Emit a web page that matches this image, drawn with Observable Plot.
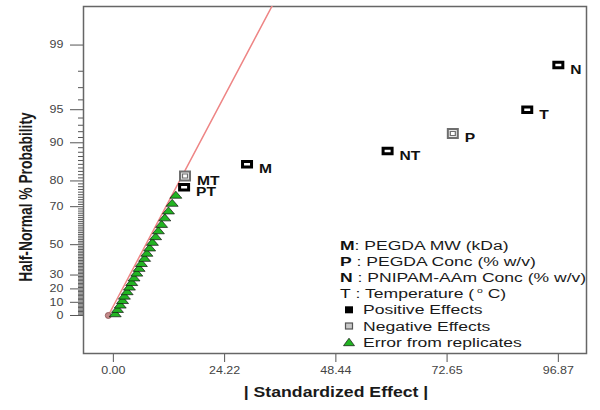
<!DOCTYPE html>
<html><head><meta charset="utf-8">
<script src="https://cdn.jsdelivr.net/npm/d3@7"></script>
<script src="https://cdn.jsdelivr.net/npm/@observablehq/plot@0.6"></script>
<style>
html,body{margin:0;padding:0;background:#fff;}
svg{display:block;}
</style></head><body><div id="chart"></div>
<script>
// ---- data ----
const effectNames  = ["N", "T", "P", "NT", "M", "MT", "PT"];
const effectValues = [96.87, 90.1, 73.9, 59.7, 29.1, 15.6, 15.4];
const effectProb   = [98.3, 95.0, 91.7, 88.3, 85.0, 81.6, 77.8];
const effectSign   = ["positive", "positive", "negative", "positive", "positive", "negative", "positive"];

const errorValues = [0.4, 0.9, 1.5, 2.0, 2.4, 3.0, 3.5, 4.0, 4.5, 5.1, 5.6, 6.1, 6.8, 7.3, 7.9, 8.5, 9.2, 9.8, 10.5, 11.2, 12.0, 12.8, 13.6];
const errorProb   = [1.7, 5.0, 8.3, 11.7, 15.0, 18.3, 21.7, 25.0, 28.3, 31.7, 35.0, 38.3, 41.7, 45.0, 48.3, 51.7, 55.0, 58.3, 61.7, 65.0, 68.3, 71.7, 75.0];

const lineValues = [-1.1, 38.7];
const lineProb   = [0, 99.9];

const originValue = [-1.1];
const originProb  = [0];

const xTicks      = [0, 24.22, 48.44, 72.65, 96.87];
const xTickLabels = ["0.00", "24.22", "48.44", "72.65", "96.87"];
const yTicks      = [0, 10, 20, 30, 50, 70, 80, 90, 95, 99];
const yTickLabels = ["0", "10", "20", "30", "50", "70", "80", "90", "95", "99"];
const yMinorTicks = d3.range(1, 99).filter(p => !yTicks.includes(p));

const legendKeys  = ["M", "P", "N", "T"];
const legendDescs = ["PEGDA MW (kDa)", "PEGDA Conc (% w/v)", "PNIPAM-AAm Conc (% w/v)", "Temperature ("];
const legendSymbolLabels = ["Positive Effects", "Negative Effects", "Error from replicates"];

const xTitle = "| Standardized Effect |";
const yTitle = "Half-Normal % Probability";

// ---- half-normal probability transform ----
function normInv(p) {
  const a=[-3.969683028665376e+01,2.209460984245205e+02,-2.759285104469687e+02,1.383577518672690e+02,-3.066479806614716e+01,2.506628277459239e+00];
  const b=[-5.447609879822406e+01,1.615858368580409e+02,-1.556989798598866e+02,6.680131188771972e+01,-1.328068155288572e+01];
  const c=[-7.784894002430293e-03,-3.223964580411365e-01,-2.400758277161838e+00,-2.549732539343734e+00,4.374664141464968e+00,2.938163982698783e+00];
  const d=[7.784695709041462e-03,3.224671290700398e-01,2.445134137142996e+00,3.754408661907416e+00];
  const pl = 0.02425, ph = 1 - pl;
  let q, r;
  if (p < pl) { q = Math.sqrt(-2*Math.log(p)); return (((((c[0]*q+c[1])*q+c[2])*q+c[3])*q+c[4])*q+c[5])/((((d[0]*q+d[1])*q+d[2])*q+d[3])*q+1); }
  if (p > ph) { q = Math.sqrt(-2*Math.log(1-p)); return -(((((c[0]*q+c[1])*q+c[2])*q+c[3])*q+c[4])*q+c[5])/((((d[0]*q+d[1])*q+d[2])*q+d[3])*q+1); }
  q = p - 0.5; r = q*q;
  return (((((a[0]*r+a[1])*r+a[2])*r+a[3])*r+a[4])*r+a[5])*q/(((((b[0]*r+b[1])*r+b[2])*r+b[3])*r+b[4])*r+1);
}
const hnz = pct => normInv(0.5 + pct / 200);

const effects = effectNames.map((name, i) => ({name, value: effectValues[i], prob: effectProb[i], sign: effectSign[i]}));
const positive = effects.filter(d => d.sign === "positive");
const negative = effects.filter(d => d.sign === "negative");
const errors = errorValues.map((v, i) => ({value: v, prob: errorProb[i]}));
const refLine = lineValues.map((v, i) => ({value: v, prob: lineProb[i]}));
const origin = originValue.map((v, i) => ({value: v, prob: originProb[i]}));

function rectSymbol(w, h) {
  return {draw(ctx) { ctx.moveTo(-w/2, -h/2); ctx.lineTo(w/2, -h/2); ctx.lineTo(w/2, h/2); ctx.lineTo(-w/2, h/2); ctx.closePath(); }};
}
function triSymbol(w, h) {
  return {draw(ctx) { ctx.moveTo(0, -h/2); ctx.lineTo(w/2, h/2); ctx.lineTo(-w/2, h/2); ctx.closePath(); }};
}

const FONT = "'Liberation Sans', Arial, sans-serif";
const yv = d => hnz(d.prob);

const svg = Plot.plot({
  width: 600, height: 410,
  marginLeft: 83, marginRight: 14, marginTop: 6, marginBottom: 57,
  style: {fontFamily: FONT, background: "white", color: "#444", overflow: "visible"},
  x: {domain: [-6.5, 103]},
  y: {domain: [-0.362, 2.943]},
  marks: [
    Plot.axisY({ticks: yMinorTicks.map(hnz), tickSize: 5, tickFormat: () => "", label: null, stroke: "#555", strokeWidth: 1}),
    Plot.axisY({ticks: yTicks.map(hnz), tickSize: 13, tickPadding: 7, label: null, fontSize: 10, stroke: "#555", fill: "#444",
      tickFormat: d => yTickLabels[yTicks.map(hnz).findIndex(t => Math.abs(t - d) < 1e-9)]}),
    Plot.axisX({ticks: xTicks, tickSize: 9, tickPadding: 4, label: null, fontSize: 10, stroke: "#555", fill: "#444",
      tickFormat: d => xTickLabels[xTicks.indexOf(d)]}),
    Plot.frame({stroke: "#666", strokeWidth: 1.5}),
    Plot.line(refLine, {x: "value", y: yv, stroke: "#ee8585", strokeWidth: 1.5, clip: true}),
    Plot.dot(origin, {x: "value", y: yv, r: 3, fill: "#c48a8a", stroke: "#8a5050", strokeWidth: 0.8}),
    Plot.dot(errors, {x: "value", y: yv, r: 5, symbol: triSymbol(12, 7), fill: "#22b422", stroke: "#111", strokeWidth: 0.7}),
    Plot.dot(positive, {x: "value", y: yv, r: 5, symbol: rectSymbol(9, 5.5), fill: "white", stroke: "#000", strokeWidth: 3}),
    Plot.dot(negative, {x: "value", y: yv, r: 5, symbol: rectSymbol(10, 9), fill: "#e6e6e6", stroke: "#6e6e6e", strokeWidth: 2}),
    Plot.dot(negative, {x: "value", y: yv, r: 3, symbol: rectSymbol(5, 4), fill: "white", stroke: "#6e6e6e", strokeWidth: 1.2}),
    Plot.text(effects, {x: "value", y: yv, text: "name", dx: 12, dy: 5, textAnchor: "start", fontWeight: "bold", fontSize: 12.5, fill: "#111"})
  ]
});

// horizontally stretch text glyphs as in the reference picture
const STRETCH = 1.25;
svg.querySelectorAll("text").forEach(t => {
  const tr = t.getAttribute("transform") || "";
  const x = t.getAttribute("x");
  let extra = "";
  if (x != null && !isNaN(+x)) { extra = `translate(${x},0)`; t.setAttribute("x", 0); }
  t.setAttribute("transform", `${tr} ${extra} scale(${STRETCH},1)`);
});

const g = d3.select(svg).append("g").attr("font-family", FONT).attr("fill", "#1a1a1a").attr("text-anchor", "start");

// axis titles
g.append("text").attr("transform", "translate(336,397) scale(1.28,1)").attr("text-anchor", "middle")
  .attr("font-weight", "bold").attr("font-size", 13.8).text(xTitle);
g.append("text").attr("transform", "translate(32,197) scale(1.28,1) rotate(-90)").attr("text-anchor", "middle")
  .attr("font-weight", "bold").attr("font-size", 13.8).text(yTitle);

// legend
const LS = 1.3, LF = 13.5, lx = 340, ly0 = 249.5, lstep = 16.2;
const keyWeights = ["bold", "bold", "bold", "normal"];
legendKeys.forEach((k, i) => {
  const t = g.append("text").attr("transform", `translate(${lx},${ly0 + i*lstep}) scale(${LS},1)`).attr("font-size", LF);
  t.append("tspan").attr("font-weight", keyWeights[i]).attr("fill", "#111").text(k);
  t.append("tspan").text((k === "M" ? ": " : " : ") + legendDescs[i]);
  if (k === "T") {
    t.append("tspan").attr("font-size", 8).attr("dy", -5).text(" o");
    t.append("tspan").attr("dy", 5).text(" C)");
  }
});
const sx = 349, tx = 363;
legendSymbolLabels.forEach((lab, i) => {
  const y = ly0 + (4 + i) * lstep;
  const cy = y - 4.5;
  if (i === 0) g.append("rect").attr("x", sx - 4).attr("y", cy - 3.5).attr("width", 8).attr("height", 7).attr("fill", "#000");
  if (i === 1) g.append("rect").attr("x", sx - 3.5).attr("y", cy - 3).attr("width", 7).attr("height", 6).attr("fill", "#c8c8c8").attr("stroke", "#555").attr("stroke-width", 1.2);
  if (i === 2) g.append("path").attr("d", `M${sx},${cy - 4}L${sx + 5.5},${cy + 3.5}L${sx - 5.5},${cy + 3.5}Z`).attr("fill", "#22b422").attr("stroke", "#111").attr("stroke-width", 0.7);
  g.append("text").attr("transform", `translate(${tx},${y}) scale(${LS},1)`).attr("font-size", LF).text(lab);
});

document.getElementById("chart").appendChild(svg);
</script>
</body></html>
